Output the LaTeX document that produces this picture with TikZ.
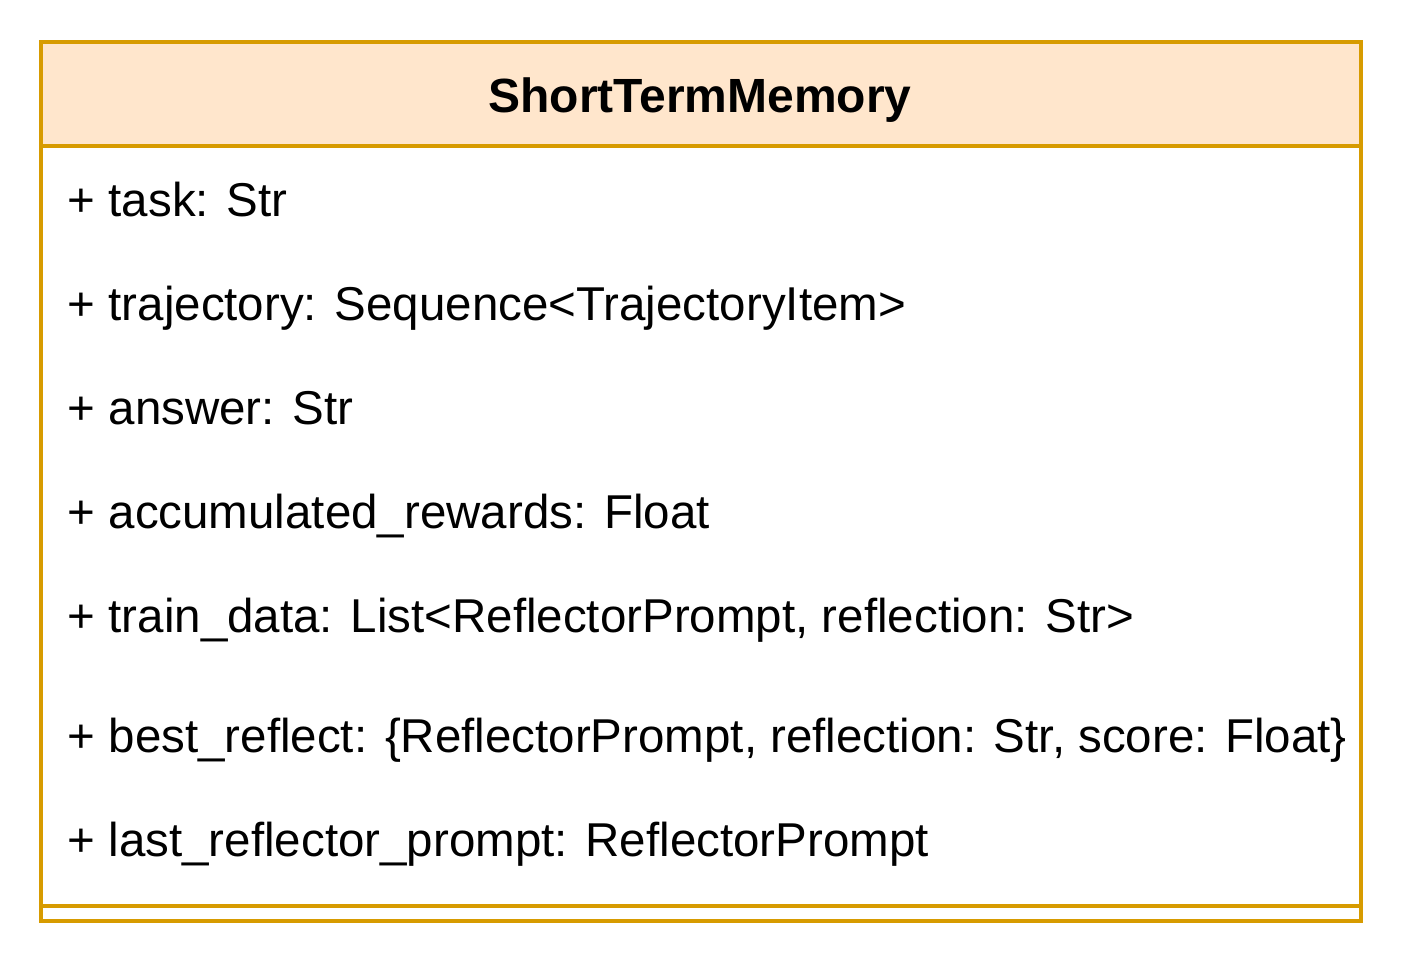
\documentclass[tikz,border=0pt]{standalone}
\usepackage{fontspec}
\setmainfont{Liberation Sans}
\definecolor{umlline}{HTML}{D79B00}
\definecolor{umlfill}{HTML}{FFE6CC}
\begin{document}
\begin{tikzpicture}[x=1pt,y=-1pt,line width=3.5pt,
  attr/.style={anchor=base west,inner sep=0pt,font=\fontsize{47.5}{56}\selectfont}]
\useasboundingbox (0,0) rectangle (1408,968);
\fill[umlfill] (41,42) rectangle (1361,146);
\draw[umlline] (41,42) rectangle (1361,921);
\draw[umlline] (41,146) -- (1361,146);
\draw[umlline] (41,906) -- (1361,906);
\node[anchor=base,inner sep=0pt,font=\bfseries\fontsize{48}{56}\selectfont] (title) at (700,113) {ShortTermMemory};
\node[attr] (a1) at (66,217) {+ task: Str};
\node[attr] (a2) at (66,320) {+ trajectory: Sequence<TrajectoryItem>};
\node[attr] (a3) at (66,424) {+ answer: Str};
\node[attr] (a4) at (66,528) {+ accumulated\_rewards: Float};
\node[attr] (a5) at (66,632) {+ train\_data: List<ReflectorPrompt, reflection: Str>};
\node[attr] (a6) at (66,752) {+ best\_reflect: \{ReflectorPrompt, reflection: Str, score: Float\}};
\node[attr] (a7) at (66,856) {+ last\_reflector\_prompt: ReflectorPrompt};
\end{tikzpicture}
\end{document}
